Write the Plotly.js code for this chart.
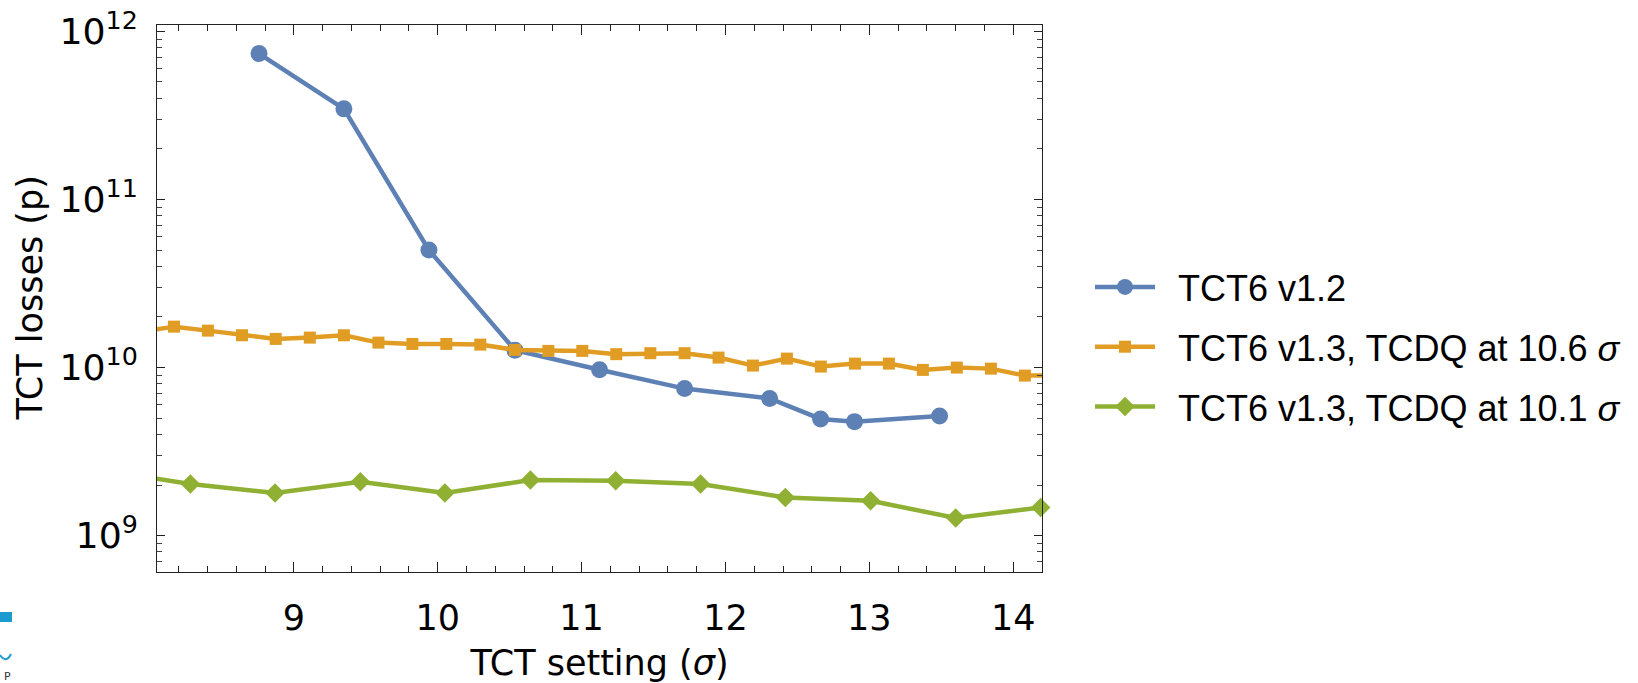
<!DOCTYPE html>
<html>
<head>
<meta charset="utf-8">
<script src="https://cdn.plot.ly/plotly-3.0.1.min.js"></script>
<style>html,body{margin:0;padding:0;background:#fff;}#chart{width:1638px;height:683px;}</style>
</head>
<body>
<div id="chart"></div>
<script>
// TCT6 v1.2
const xBlue = [8.758, 9.348, 9.939, 10.537, 11.125, 11.716, 12.307, 12.661, 12.897, 13.488];
const yBlue = [7.38e11, 3.46e11, 5.0e10, 1.27e10, 9.7e9, 7.5e9, 6.55e9, 4.95e9, 4.77e9, 5.16e9];
// TCT6 v1.3, TCDQ at 10.6 sigma
const xOrange = [7.931, 8.167, 8.403, 8.640, 8.874, 9.111, 9.348, 9.588, 9.824, 10.060, 10.296, 10.537, 10.769, 11.005, 11.241, 11.478, 11.716, 11.952, 12.191, 12.427, 12.663, 12.900, 13.136, 13.372, 13.608, 13.845, 14.081, 14.317];
const yOrange = [1.63e10, 1.752e10, 1.659e10, 1.557e10, 1.481e10, 1.508e10, 1.557e10, 1.408e10, 1.383e10, 1.383e10, 1.370e10, 1.274e10, 1.257e10, 1.257e10, 1.202e10, 1.218e10, 1.218e10, 1.147e10, 1.028e10, 1.131e10, 1.014e10, 1.056e10, 1.056e10, 9.69e9, 1.0e10, 9.86e9, 8.96e9, 8.98e9];
// TCT6 v1.3, TCDQ at 10.1 sigma
const xGreen = [7.688, 8.281, 8.869, 9.462, 10.050, 10.644, 11.237, 11.827, 12.416, 13.009, 13.600, 14.191];
const yGreen = [2.44e9, 2.03e9, 1.794e9, 2.094e9, 1.794e9, 2.143e9, 2.122e9, 2.03e9, 1.689e9, 1.614e9, 1.274e9, 1.473e9];

const seriesNames = ['TCT6 v1.2', 'TCT6 v1.3, TCDQ at 10.6 <i>σ</i>', 'TCT6 v1.3, TCDQ at 10.1 <i>σ</i>'];
const xTitle = 'TCT setting (<i>σ</i>)';
const yTitle = 'TCT losses (p)';

const cBlue = '#5E81B5', cOrange = '#E19C24', cGreen = '#8FB032';
const pad = '\u2002';

const traces = [
  {x: xBlue, y: yBlue, name: pad + seriesNames[0], mode: 'lines+markers', legendgroup: 'a', cliponaxis: false,
   line: {color: cBlue, width: 4.5}, marker: {symbol: 'circle', size: 17, color: cBlue}},
  {x: xOrange, y: yOrange, name: pad + seriesNames[1], mode: 'lines+markers', legendgroup: 'b', cliponaxis: false,
   line: {color: cOrange, width: 4.5}, marker: {symbol: 'square', size: 12, color: cOrange}},
  {x: xGreen, y: yGreen, name: pad + seriesNames[2], mode: 'lines+markers', legendgroup: 'c', cliponaxis: false,
   line: {color: cGreen, width: 4.5}, marker: {symbol: 'diamond', size: 15, color: cGreen}}
];

const layout = {
  width: 1638, height: 683,
  margin: {l: 157, r: 596, t: 25, b: 111},
  paper_bgcolor: '#fff', plot_bgcolor: '#fff',
  showlegend: true,
  font: {family: 'DejaVu Sans', size: 35, color: '#000'},
  xaxis: {
    range: [8.049, 14.20], dtick: 1, tick0: 0,
    showgrid: false, zeroline: false,
    showline: true, linecolor: '#222', linewidth: 1.3, mirror: 'ticks',
    ticks: 'inside', ticklen: 10, tickwidth: 1.2, tickcolor: '#222',
    minor: {dtick: 0.2, ticks: 'inside', ticklen: 6, tickwidth: 1, tickcolor: '#222', showgrid: false},
    tickfont: {family: 'DejaVu Sans', size: 35, color: '#000'}, ticklabelstandoff: 15,
    title: {text: xTitle, font: {family: 'DejaVu Sans', size: 35, color: '#000'}, standoff: 21}
  },
  yaxis: {
    type: 'log', range: [8.784, 12.038], dtick: 1,
    exponentformat: 'power', showexponent: 'all',
    showgrid: false, zeroline: false,
    showline: true, linecolor: '#222', linewidth: 1.3, mirror: 'ticks',
    ticks: 'inside', ticklen: 8, tickwidth: 1.2, tickcolor: '#222',
    minor: {dtick: 'D1', ticks: 'inside', ticklen: 5, tickwidth: 1, tickcolor: '#444', showgrid: false},
    tickfont: {family: 'DejaVu Sans', size: 29, color: '#000'}, ticklabelstandoff: 12
  },
  legend: {
    xref: 'container', yref: 'container', x: 1090/1638, y: 1 - 347/683,
    xanchor: 'left', yanchor: 'middle',
    font: {family: 'Liberation Sans', size: 36, color: '#000'},
    traceorder: 'grouped', tracegroupgap: 10, itemwidth: 60,
    bgcolor: 'rgba(0,0,0,0)', borderwidth: 0
  },
  shapes: [
    {type: 'rect', xref: 'paper', yref: 'paper', x0: -157/885, x1: -145/885, y0: (572 - 612)/547, y1: (572 - 622)/547,
     line: {width: 0}, fillcolor: '#1C9BD0'},
    {type: 'path', xref: 'paper', yref: 'paper',
     path: 'M ' + (-157/885) + ' ' + ((572 - 655)/547) + ' Q ' + (-151/885) + ' ' + ((572 - 664)/547) + ' ' + (-146/885) + ' ' + ((572 - 654)/547),
     line: {color: '#1C9BD0', width: 2}}
  ],
  annotations: [
    {text: yTitle, xref: 'paper', yref: 'paper', x: (29 - 157)/885, y: 0.5, textangle: -90, showarrow: false,
     xanchor: 'center', yanchor: 'middle', font: {family: 'DejaVu Sans', size: 35, color: '#000'}},
    {text: 'P', xref: 'paper', yref: 'paper', x: -150/885, y: (572 - 676)/547, showarrow: false,
     font: {family: 'DejaVu Sans', size: 11, color: '#333'}, xanchor: 'center', yanchor: 'middle'}
  ]
};

Plotly.newPlot('chart', traces, layout, {displayModeBar: false, staticPlot: true});
</script>
</body>
</html>
